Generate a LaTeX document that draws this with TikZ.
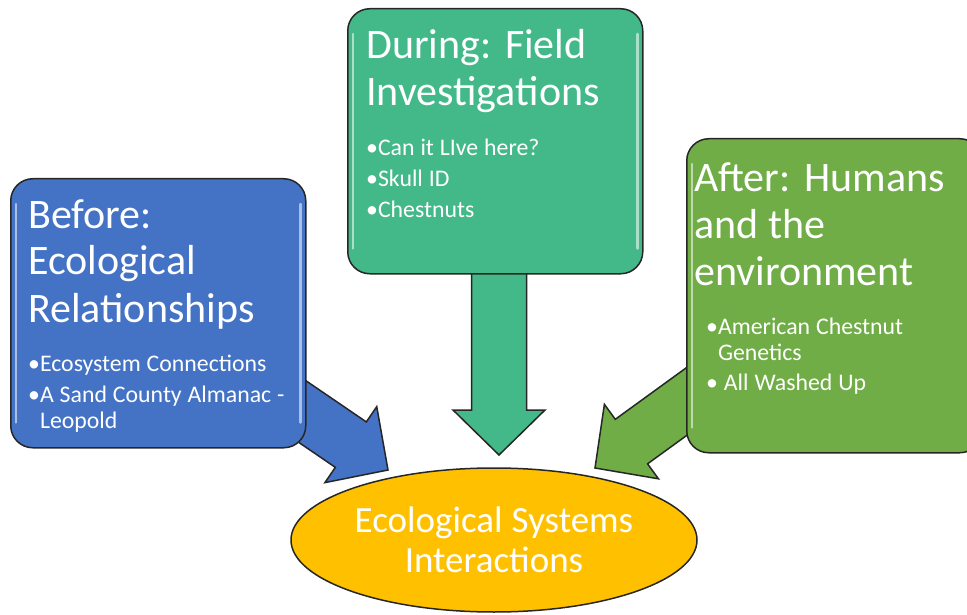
\documentclass[tikz,border=0pt]{standalone}
\usepackage{fontspec}
\setmainfont{Carlito}[WordSpace=1.1]
\usetikzlibrary{shapes.geometric,calc}
\definecolor{stageblue}{RGB}{68,114,196}
\definecolor{stageteal}{RGB}{67,185,138}
\definecolor{stagegreen}{RGB}{112,173,71}
\definecolor{ovalgold}{RGB}{255,192,0}
\setlength{\parindent}{0pt}
\setlength{\parskip}{0pt}

\newcommand{\stagehead}{\fontsize{42}{47}\selectfont\spaceskip=0pt\xspaceskip=0pt}
\newcommand{\stageitem}{\fontsize{23.8}{25.5}\selectfont\spaceskip=0pt\xspaceskip=0pt}
% fat arrow: colour, start, tip
\newcommand{\blockarrow}[3]{%
  \coordinate (hb) at ($(#3)!45pt!(#2)$);
  \filldraw[#1, draw=black!85, line width=1.5pt]
    ($(#2)!27.5pt!90:(#3)$) -- ($(hb)!27.5pt!-90:(#2)$) -- ($(hb)!46pt!-90:(#2)$)
    -- (#3) -- ($(hb)!46pt!90:(#2)$) -- ($(hb)!27.5pt!90:(#2)$)
    -- ($(#2)!27.5pt!-90:(#3)$) -- cycle;}

\tikzset{
  stage/.style={draw=black!85, line width=1.5pt, rounded corners=22pt,
    minimum width=295pt, inner sep=0pt, anchor=north west},
  stagetxt/.style={text=white, text width=285pt, align=left, inner sep=0pt, anchor=base west},
  gloss/.style={white, opacity=0.55, line width=2.5pt, line cap=round},
  oval/.style={ellipse, draw=black!85, line width=1.5pt, fill=ovalgold, text=white,
    minimum width=406pt, minimum height=144pt, inner sep=0pt, align=center,
    font=\fontsize{37}{40}\selectfont}
}

\begin{document}
\begin{tikzpicture}[x=1pt, y=-1pt]
\useasboundingbox (0,0) rectangle (967,615);

% arrow ends
\coordinate (beforeout) at (281,397);
\coordinate (beforetip) at (388,470);
\coordinate (duringout) at (499,260);
\coordinate (duringtip) at (499,455);
\coordinate (afterout) at (708,386);
\coordinate (aftertip) at (595,468);

\blockarrow{stageblue}{beforeout}{beforetip}
\blockarrow{stageteal}{duringout}{duringtip}
\blockarrow{stagegreen}{afterout}{aftertip}

% the three stages
\node[stage, fill=stageblue, minimum height=269pt] (before) at (10,178) {};
\node[stage, fill=stageteal, minimum height=265pt] (during) at (347,8) {};
\node[stage, fill=stagegreen, minimum height=314pt] (after) at (686,138) {};

\foreach \b in {before,during,after} {
  \draw[gloss] ([xshift=6pt,yshift=-26pt]\b.north west) -- ([xshift=6pt,yshift=26pt]\b.south west);
  \draw[gloss] ([xshift=-6pt,yshift=-26pt]\b.north east) -- ([xshift=-6pt,yshift=26pt]\b.south east);
}

\node[stagetxt] (beforetxt) at (28,228) {\stagehead Before:\\Ecological\\Relationships\par
  \vspace{24.5pt}\stageitem •Ecosystem Connections\par
  \vspace{5.5pt}•A Sand County Almanac -\\\phantom{•}Leopold\par};
\node[stagetxt] (duringtxt) at (366,59) {\stagehead During: Field\\Investigations\par
  \vspace{24pt}\stageitem •Can it LIve here?\par
  \vspace{5.5pt}•Skull ID\par
  \vspace{5.5pt}•Chestnuts\par};
\node[stagetxt] (aftertxt) at (694,192) {\stagehead After: Humans\\and the\\environment\par
  \vspace{23.5pt}\stageitem \hspace*{12pt}•American Chestnut\\\hspace*{12pt}\phantom{•}Genetics\par
  \vspace{4.5pt}\hspace*{12pt}• All Washed Up\par};

\node[oval] (systems) at (494,540) {Ecological Systems\\Interactions};
\end{tikzpicture}
\end{document}
